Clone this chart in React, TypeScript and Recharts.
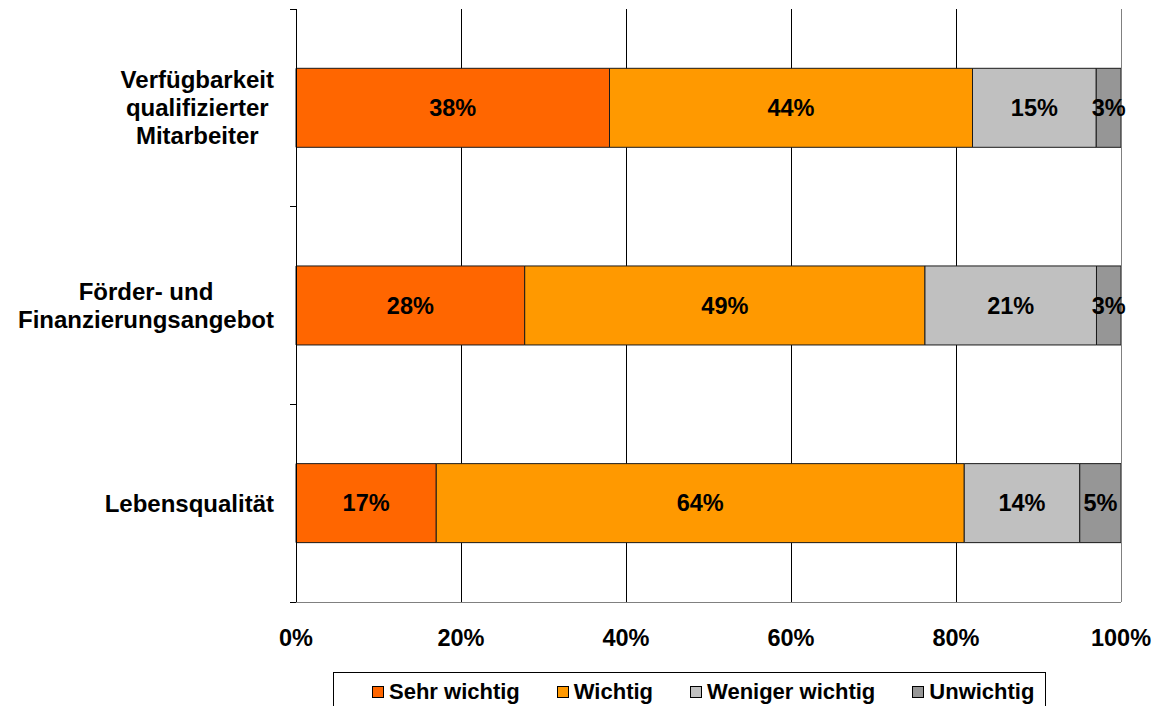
import React from "react";
import {
  BarChart, Bar, XAxis, YAxis, CartesianGrid, Legend, LabelList, ReferenceLine,
} from "recharts";

// Survey answers per location factor, in percent
const CATEGORIES = [
  "Verfügbarkeit qualifizierter Mitarbeiter",
  "Förder- und Finanzierungsangebot",
  "Lebensqualität",
];
const CATEGORY_LINES = [
  ["Verfügbarkeit", "qualifizierter", "Mitarbeiter"],
  ["Förder- und", "Finanzierungsangebot"],
  ["Lebensqualität"],
];
const SEHR_WICHTIG = [38, 28, 17];
const WICHTIG = [44, 49, 64];
const WENIGER_WICHTIG = [15, 21, 14];
const UNWICHTIG = [3, 3, 5];
const X_TICKS = [0, 0.2, 0.4, 0.6, 0.8, 1];

const SERIES = [
  { key: "sehr", name: "Sehr wichtig", color: "#FF6600" },
  { key: "wichtig", name: "Wichtig", color: "#FF9900" },
  { key: "weniger", name: "Weniger wichtig", color: "#C0C0C0" },
  { key: "unwichtig", name: "Unwichtig", color: "#969696" },
];

const rows = CATEGORIES.map((name, i) => ({
  name,
  sehr: SEHR_WICHTIG[i],
  wichtig: WICHTIG[i],
  weniger: WENIGER_WICHTIG[i],
  unwichtig: UNWICHTIG[i],
}));

const FONT = '"Liberation Sans", Arial, sans-serif';
const W = 1157;
const H = 706;
const M = { top: 9, right: 36, bottom: 0, left: 0 };
const Y_AXIS_W = 296;
const X_AXIS_H = 70;
const LEGEND_H = 34;
const PLOT_H = H - M.top - X_AXIS_H - LEGEND_H;
const BAND = PLOT_H / CATEGORIES.length;

let ctx: CanvasRenderingContext2D | null = null;
function textWidth(s: string, font: string) {
  if (!ctx) ctx = document.createElement("canvas").getContext("2d");
  if (!ctx) return s.length * 12;
  ctx.font = font;
  return ctx.measureText(s).width;
}

function CategoryTick(props: any) {
  const { y, payload, index } = props;
  const i = typeof index === "number" ? index : CATEGORIES.indexOf(payload.value);
  const lines = CATEGORY_LINES[i] || [String(payload.value)];
  const font = `bold 24px ${FONT}`;
  const maxW = Math.max(...lines.map((l) => textWidth(l, font)));
  const cx = Y_AXIS_W - 22 - maxW / 2;
  const lh = 28;
  return (
    <g>
      {lines.map((l, k) => (
        <text key={k} x={cx} y={y + (k - (lines.length - 1) / 2) * lh} textAnchor="middle"
          dominantBaseline="central" fontFamily={FONT} fontWeight="bold" fontSize={24} fill="#000">
          {l}
        </text>
      ))}
      {/* tick marks sit on the category boundaries */}
      <line x1={Y_AXIS_W - 6} x2={Y_AXIS_W} y1={y - BAND / 2} y2={y - BAND / 2} stroke="#000" shapeRendering="crispEdges" />
      <line x1={Y_AXIS_W - 6} x2={Y_AXIS_W} y1={y + BAND / 2} y2={y + BAND / 2} stroke="#000" shapeRendering="crispEdges" />
    </g>
  );
}

function PercentTick(props: any) {
  const { x, y, payload } = props;
  return (
    <text x={x} y={y} dy={-1} textAnchor="middle" dominantBaseline="hanging"
      fontFamily={FONT} fontWeight="bold" fontSize={23.5} fill="#000">
      {`${Math.round(payload.value * 100)}%`}
    </text>
  );
}

function LegendBox() {
  return (
    <div style={{
      boxSizing: "border-box", height: LEGEND_H, width: 713,
      border: "1px solid #000", borderBottom: "none", background: "#fff",
      display: "flex", alignItems: "center", paddingLeft: 38, paddingTop: 4, gap: 37,
      fontFamily: FONT, fontWeight: "bold", fontSize: 22, color: "#000",
    }}>
      {SERIES.map((s) => (
        <span key={s.key} style={{ display: "flex", alignItems: "center", whiteSpace: "nowrap" }}>
          <span style={{
            display: "inline-block", width: 10, height: 10, background: s.color,
            border: "1px solid #000", marginRight: 5,
          }} />
          {s.name}
        </span>
      ))}
    </div>
  );
}

export default function App() {
  return (
    <div style={{ position: "absolute", left: 0, top: 0, width: W, height: H, background: "#fff" }}>
      <BarChart width={W} height={H} data={rows} layout="vertical" stackOffset="expand"
        margin={M} barCategoryGap="30%">
        <CartesianGrid horizontal={false} stroke="#000" shapeRendering="crispEdges" />
        <XAxis type="number" domain={[0, 1]} ticks={X_TICKS} height={X_AXIS_H}
          axisLine={{ stroke: "#808080", shapeRendering: "crispEdges" }} tickLine={false}
          tickMargin={22} tick={<PercentTick />} />
        <XAxis xAxisId="top" orientation="top" type="number" domain={[0, 1]} height={0}
          axisLine={{ stroke: "#808080", shapeRendering: "crispEdges" }} tickLine={false} tick={false} />
        <YAxis type="category" dataKey="name" width={Y_AXIS_W}
          axisLine={{ stroke: "#000", shapeRendering: "crispEdges" }} tickLine={false} tick={<CategoryTick />} />
        <Legend verticalAlign="bottom" content={<LegendBox />}
          wrapperStyle={{ left: 333, width: 713, bottom: 0, height: LEGEND_H }} />
        {SERIES.map((s) => (
          <Bar key={s.key} dataKey={s.key} name={s.name} stackId="a" fill={s.color}
            stroke="#1a1a1a" strokeWidth={1} isAnimationActive={false}>
            <LabelList dataKey={s.key} position="center" formatter={(v: any) => `${v}%`}
              fill="#000" fontFamily={FONT} fontWeight="bold" fontSize={23.5} />
          </Bar>
        ))}
        <ReferenceLine x={1} stroke="#808080" shapeRendering="crispEdges" />
      </BarChart>
    </div>
  );
}
